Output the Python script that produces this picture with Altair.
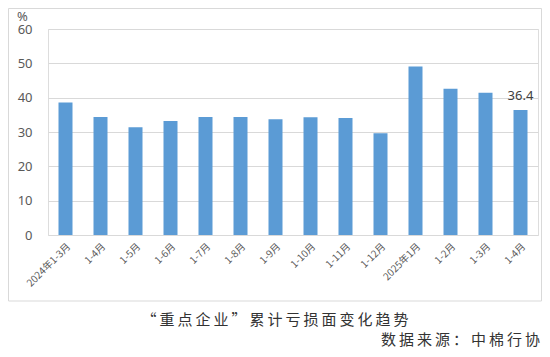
import json
import altair as alt
import pandas as pd

categories = ["2024年1-3月", "1-4月", "1-5月", "1-6月", "1-7月", "1-8月", "1-9月",
              "1-10月", "1-11月", "1-12月", "2025年1月", "1-2月", "1-3月", "1-4月"]
values = [38.6, 34.4, 31.4, 33.2, 34.4, 34.4, 33.7, 34.3, 34.1, 29.6, 49.1, 42.6, 41.4, 36.4]
y_ticks = [0, 10, 20, 30, 40, 50, 60]
title_text = "“重点企业”累计亏损面变化趋势"
source_text = "数据来源：中棉行协"
unit_text = "%"

df = pd.DataFrame({"idx": list(range(len(categories))), "cat": categories, "val": values})
label_expr = json.dumps(categories, ensure_ascii=False) + "[datum.value]"

W, H = 490, 206
FONT = "Noto Sans"
CJK = "Noto Sans CJK SC"

x_enc = alt.X("idx:O", sort=None,
              scale=alt.Scale(paddingInner=0.6, paddingOuter=0.3),
              axis=alt.Axis(title=None, labelExpr=label_expr, labelAngle=-45,
                            labelFontSize=10, labelColor="#595959", labelFont=CJK,
                            ticks=False, domain=False, labelPadding=6))
y_enc = alt.Y("val:Q", scale=alt.Scale(domain=[0, 60], nice=False),
              axis=alt.Axis(title=None, values=y_ticks, labelFontSize=13,
                            labelColor="#595959", labelFont=FONT, ticks=False,
                            labelOverlap=False, labelBound=False, labelFlush=False,
                            domain=False, gridColor="#d9d9d9", labelPadding=16))

bars = alt.Chart(df).mark_bar(color="#5B9BD5").encode(x=x_enc, y=y_enc)

last = alt.Chart(df.tail(1)).mark_text(dy=-14, fontSize=13, color="#404040",
                                       font=FONT).encode(
    x=x_enc, y=y_enc, text=alt.Text("val:Q", format=".1f"))

border = alt.Chart(df.head(1)).mark_rect(fill=None, stroke="#d9d9d9",
                                         strokeWidth=1).encode(
    x=alt.value(-39.5), x2=alt.value(W + 3.5), y=alt.value(-20.5), y2=alt.value(H + 66))

unit = alt.Chart(df.head(1)).mark_text(fontSize=13, color="#595959", font=FONT,
                                       align="left", baseline="middle").encode(
    x=alt.value(-31), y=alt.value(-12), text=alt.value(unit_text))

spaced_title = "\u2009".join(title_text)
spaced_source = "\u2009".join(source_text)

title = alt.Chart(df.head(1)).mark_text(fontSize=15, color="#333333", font=CJK,
                                        align="center", baseline="middle").encode(
    x=alt.value(227), y=alt.value(291), text=alt.value(spaced_title))

source = alt.Chart(df.head(1)).mark_text(fontSize=15, color="#333333", font=CJK,
                                         align="right", baseline="middle").encode(
    x=alt.value(492), y=alt.value(311), text=alt.value(spaced_source))

chart = alt.layer(border, bars, last, unit, title, source).properties(
    width=W, height=H,
    autosize=alt.AutoSizeParams(type="none"),
    padding={"left": 40, "top": 21, "right": 4, "bottom": 114},
).configure_view(stroke=None).configure(background="white")

chart.save("out.html", embed_options={"renderer": "svg", "actions": False})
